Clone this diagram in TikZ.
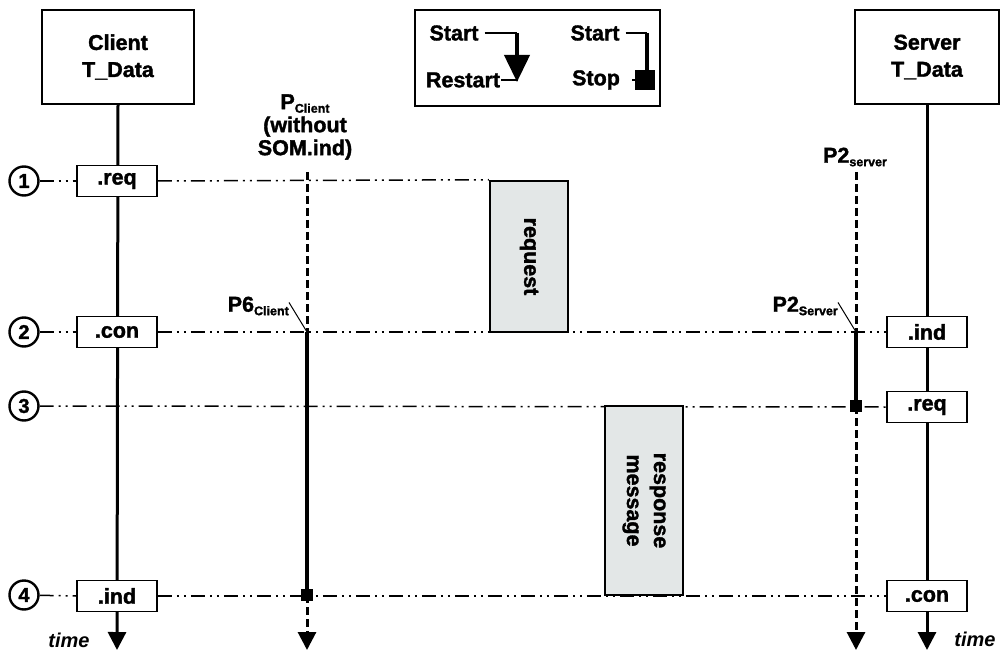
\documentclass[tikz,border=0pt]{standalone}
\usepackage{fontspec}
\setmainfont{Liberation Sans}[BoldFeatures={FakeBold=1.6}]
\usetikzlibrary{arrows.meta,backgrounds}
\definecolor{msgfill}{HTML}{E3E7E7}
\newcommand{\sbs}[1]{\raisebox{-3.5pt}{\fontsize{12.5}{12}\selectfont #1}}
\begin{document}
\begin{tikzpicture}[x=1pt,y=-1pt,
  every node/.style={font=\bfseries\fontsize{21.5}{27}\selectfont},
  hdr/.style={draw,line width=2pt,minimum height=94pt,align=center,inner sep=0},
  prim/.style={draw,line width=1.6pt,fill=white,minimum width=80pt,minimum height=31pt,inner sep=0},
  num/.style={circle,draw,line width=2.4pt,minimum size=29pt,inner sep=0,fill=white,font=\bfseries\fontsize{20}{20}\selectfont},
  msg/.style={draw,line width=2.5pt,fill=msgfill,minimum width=78pt,inner sep=0},
  life/.style={line width=3pt},
  ddot/.style={line width=1.5pt,dash pattern=on 14pt off 5pt on 2pt off 5pt on 2pt off 5pt},
  pdash/.style={line width=3pt,dash pattern=on 8pt off 4pt},
  pthick/.style={line width=4pt},
  lead/.style={line width=1pt},
  downtip/.style={-{Triangle[length=18pt,width=18pt]}},
  stopsq/.style={fill,minimum size=12pt,inner sep=0},
  lbl/.style={inner sep=0},
  timelbl/.style={inner sep=0,font=\bfseries\itshape\fontsize{20}{20}\selectfont}
]
\useasboundingbox (0,0) rectangle (1000,652);

% headers
\node[hdr,minimum width=152pt] (ch) at (118,57) {Client\\T\_Data};
\node[hdr,minimum width=144pt] (sh) at (927,57) {Server\\T\_Data};

% legend
\node[draw,line width=1.5pt,minimum width=245pt,minimum height=96pt,inner sep=0] (leg) at (537.5,58) {};
\node[lbl] (ls1) at (454,33) {Start};
\node[lbl] (lr) at (463,80) {Restart};
\node[lbl] (ls2) at (595,33) {Start};
\node[lbl] (lst) at (596,80) {Stop};
\coordinate (la0) at (517,33);
\coordinate (la1) at (517,82);
\coordinate (lb0) at (647,33);
\node[fill,minimum size=20pt,inner sep=0] (lsq) at (645,80) {};
\draw[line width=1.3pt] ([xshift=6pt]ls1.east) -- (la0);
\draw[line width=4pt,-{Triangle[length=27pt,width=25pt]}] (la0) -- (la1);
\draw[line width=1.3pt] ([xshift=1pt]lr.east) -- ([xshift=1pt]lr.east -| la1);
\draw[line width=1.3pt] ([xshift=6pt]ls2.east) -- (lb0);
\draw[line width=4pt] (lb0) -- (lsq.north -| lb0);
\draw[line width=1.3pt] ([xshift=12pt]lst.east) -- (lsq.west);

% row markers
\node[num] (n1) at (24,181) {1};
\node[num] (n2) at (24,332) {2};
\node[num] (n3) at (24,406) {3};
\node[num] (n4) at (24,595) {4};

% primitives
\node[prim] (cq) at (117,181) {.req};
\node[prim] (cc) at (117,332) {.con};
\node[prim] (ci) at (117,596) {.ind};
\node[prim] (si) at (927,332) {.ind};
\node[prim] (sq) at (927,407) {.req};
\node[prim] (sc) at (927,596) {.con};

% messages
\node[msg,minimum height=151pt] (rq) at (529,256.5) {};
\node[rotate=-90] (rqt) at (rq.center) {request};
\node[msg,minimum height=189pt] (rs) at (644,500.5) {};
\node[rotate=-90,align=center] (rst) at (rs.center) {response\\message};

% timer points
\coordinate (pc0) at (307,172);
\coordinate (pc2) at (307,332);
\coordinate (pc4) at (307,595);
\coordinate (pce) at (307,650);
\coordinate (ps0) at (856,172);
\coordinate (ps2) at (856,332);
\coordinate (ps3) at (856,406);
\coordinate (pse) at (856,650);
\coordinate (ce) at (117,650);
\coordinate (se) at (927,650);

\node[stopsq] (pcsq) at (pc4) {};
\node[stopsq] (pssq) at (ps3) {};

% labels
\node[align=center,inner sep=0] (pcl) at (305,127) {P\sbs{Client}\\[-4pt](without\\[-4pt]SOM.ind)};
\node[lbl,anchor=east] (p6) at (289,306) {P6\sbs{Client}};
\node[lbl] (p2a) at (855,157) {P2\sbs{server}};
\node[lbl,anchor=east] (p2b) at (838,306) {P2\sbs{Server}};
\node[timelbl] (t1) at (69,640) {time};
\node[timelbl] (t2) at (975,639) {time};

\begin{scope}[on background layer]
  % dash-dot rows
  \draw[ddot] (n1) -- (cq.west);
  \draw[ddot] (cq.east) -- (rq.north west);
  \draw[ddot] (n2) -- (cc.west);
  \draw[ddot] (cc.east) -- (si.west);
  \draw[ddot] (n3) -- (sq.west);
  \draw[ddot] (n4) -- (ci.west);
  \draw[ddot] (ci.east) -- (sc.west);
  % lifelines
  \draw[life,downtip] (ch.south) -- (ce);
  \draw[life,downtip] (sh.south -| se) -- (se);
  % client timer
  \draw[pdash] (pc0) -- (pc2);
  \draw[pthick] (pc2) -- (pc4);
  \draw[pdash,downtip] (pc4) -- (pce);
  % server timer
  \draw[pdash] (ps0) -- (ps2);
  \draw[pthick] (ps2) -- (ps3);
  \draw[pdash,downtip] (ps3) -- (pse);
  % leaders
  \draw[lead] ([yshift=-6pt]p6.north east) -- (pc2);
  \draw[lead] ([yshift=-6pt]p2b.north east) -- (ps2);
\end{scope}
\end{tikzpicture}
\end{document}
